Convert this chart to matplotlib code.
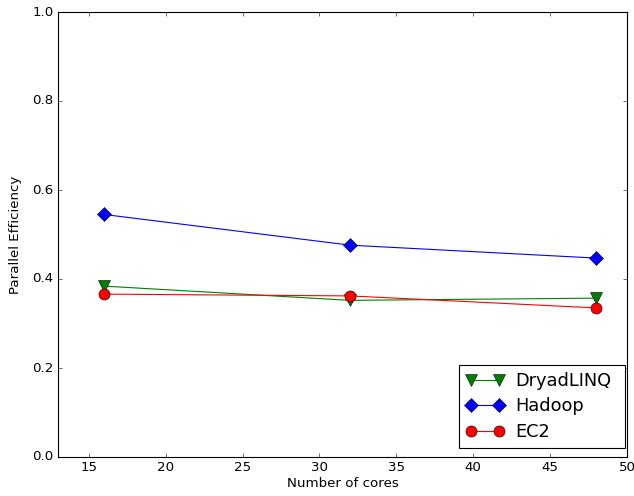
import matplotlib
matplotlib.use("Agg")
import matplotlib.pyplot as plt

plt.style.use('classic')

cores = [16, 32, 48]
dryad = [0.384, 0.352, 0.357]
hadoop = [0.545, 0.476, 0.447]
ec2 = [0.366, 0.362, 0.335]

fig = plt.figure(figsize=(634/80, 496/80), dpi=80)
ax = fig.add_axes([58/634, 39/496, 569/634, 445/496])

ax.plot(cores, dryad, color='green', marker='v', markersize=10, markeredgecolor='black', label='DryadLINQ')
ax.plot(cores, hadoop, color='blue', marker='D', markersize=9, markeredgecolor='black', label='Hadoop')
ax.plot(cores, ec2, color='red', marker='o', markersize=10, markeredgecolor='black', label='EC2')

ax.set_xlim(13, 50)
ax.set_ylim(0, 1.0)
ax.set_xticks([15, 20, 25, 30, 35, 40, 45, 50])
ax.set_yticks([0.0, 0.2, 0.4, 0.6, 0.8, 1.0])
ax.set_xlabel('Number of cores', fontsize=12, labelpad=2)
ax.set_ylabel('Parallel Efficiency', fontsize=12, labelpad=9)
ax.tick_params(labelsize=12)
ax.legend(loc='lower left', bbox_to_anchor=(0.7047, 0.0202, 0.2918, 0.1), mode='expand',
          borderaxespad=0, fontsize=16, numpoints=2, handlelength=2.17,
          handletextpad=0.63, borderpad=0.39, labelspacing=0.43)

fig.savefig('out.png', dpi=80)
